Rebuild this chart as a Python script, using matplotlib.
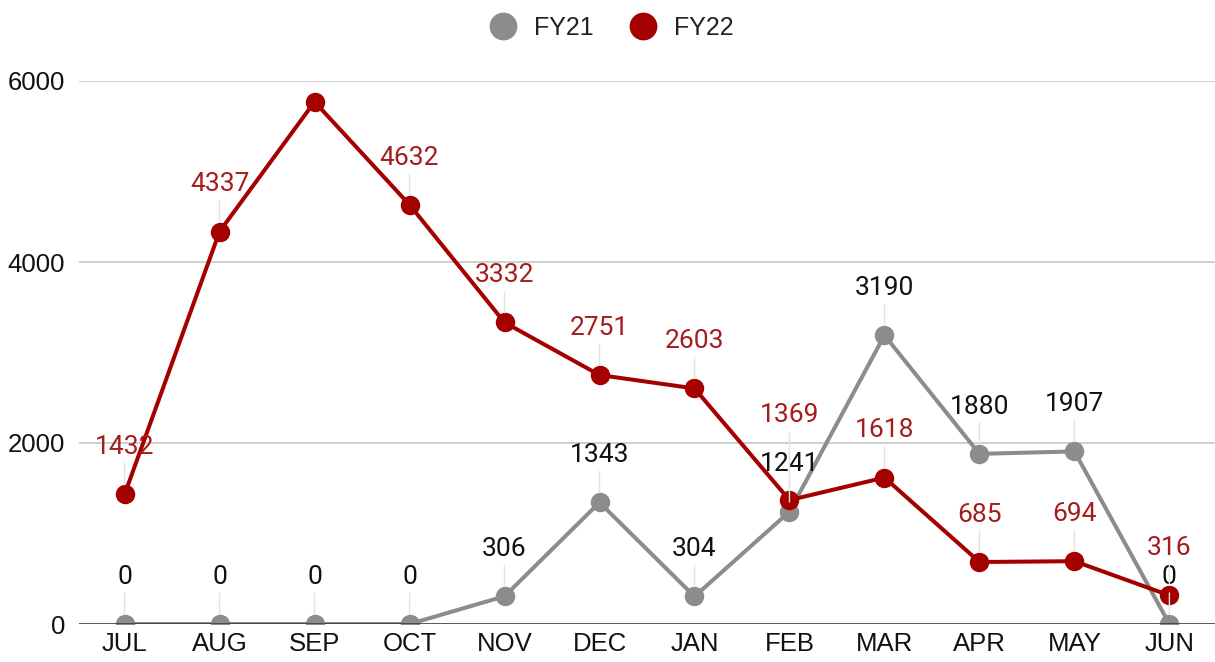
import matplotlib.pyplot as plt
from matplotlib.lines import Line2D

plt.rcParams['font.family'] = ['Roboto', 'DejaVu Sans']

months = ["JUL", "AUG", "SEP", "OCT", "NOV", "DEC", "JAN", "FEB", "MAR", "APR", "MAY", "JUN"]
fy21 = [0, 0, 0, 0, 306, 1343, 304, 1241, 3190, 1880, 1907, 0]
fy22 = [1432, 4337, 5770, 4632, 3332, 2751, 2603, 1369, 1618, 685, 694, 316]
yticks = [0, 2000, 4000, 6000]

gray = "#8c8c8c"
red = "#a50000"
red_text = "#a51c1c"
axis_font = ["Liberation Sans", "DejaVu Sans"]

# labels that google sheets hid or pushed up
fy22_hidden = {2}
fy22_extra_up = {7: 27}

fig = plt.figure(figsize=(12.15, 6.62), dpi=100)
ax = fig.add_axes([79 / 1215, 1 - 624 / 662, 1 - 79 / 1215, (624 - 81) / 662])

x = list(range(len(months)))
ax.plot(x, fy21, color=gray, lw=2.9, marker="o", ms=13, zorder=3)
ax.plot(x, fy22, color=red, lw=2.9, marker="o", ms=13, zorder=4)

ax.set_xlim(-0.48, 11.48)
ax.set_ylim(0, 6000)
ax.set_yticks(yticks)
ax.set_xticks(x)
ax.set_xticklabels(months)
ax.tick_params(axis="both", length=0, labelsize=18.5, labelcolor="#111111")
ax.tick_params(axis="y", pad=10)
ax.tick_params(axis="x", pad=6)
for t in ax.get_xticklabels() + ax.get_yticklabels():
    t.set_family(axis_font)
ax.grid(axis="y", color="#cccccc", lw=1.3)
ax.set_axisbelow(True)
for s in ["top", "right", "left", "bottom"]:
    ax.spines[s].set_visible(False)
ax.axhline(0, color="#333333", lw=1.8, zorder=5)


def label(i, v, color, up):
    ax.annotate(str(v), (i, v), xytext=(0, up), textcoords="offset points",
                ha="center", va="center", fontsize=19, color=color, zorder=6,
                arrowprops=dict(arrowstyle="-", color="#e3e3e3", lw=1,
                                shrinkA=1, shrinkB=7))


for i, v in enumerate(fy21):
    label(i, v, "#111111", 34)
for i, v in enumerate(fy22):
    if i in fy22_hidden:
        continue
    label(i, v, red_text, 34 + fy22_extra_up.get(i, 0))

handles = [Line2D([], [], ls="", marker="o", ms=19, color=gray),
           Line2D([], [], ls="", marker="o", ms=19, color=red)]
fig.legend(handles, ["FY21", "FY22"], loc="center", bbox_to_anchor=(606 / 1215, 1 - 28 / 662),
           ncol=2, frameon=False, prop={"family": axis_font, "size": 18},
           handletextpad=0.25, columnspacing=0.95, labelcolor="#222222")

fig.savefig("out.png", dpi=100)
